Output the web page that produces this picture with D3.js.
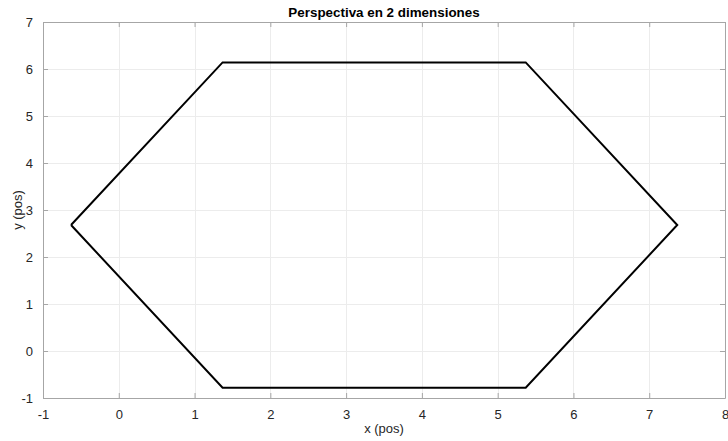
<!DOCTYPE html>
<meta charset="utf-8">
<style>
  body { margin: 0; background: #fff; }
  text { font-family: "Liberation Sans", Arial, sans-serif; }
</style>
<body>
<svg width="728" height="441"></svg>
<script src="https://cdn.jsdelivr.net/npm/d3@7"></script>
<script>
// hexagon vertices (closed path)
var xs = [-0.63, 1.37, 5.37, 7.37, 5.37, 1.37, -0.63];
var ys = [2.68, 6.14, 6.14, 2.68, -0.78, -0.78, 2.68];
var xTicks = [-1, 0, 1, 2, 3, 4, 5, 6, 7, 8];
var yTicks = [-1, 0, 1, 2, 3, 4, 5, 6, 7];

var svg = d3.select("svg");
var pLeft = 43, pRight = 725, pTop = 22, pBottom = 398;

var x = d3.scaleLinear().domain([-1, 8]).range([pLeft, pRight]);
var y = d3.scaleLinear().domain([-1, 7]).range([pBottom, pTop]);
var fmt = d => String(d);

// grid
var grid = svg.append("g").attr("stroke", "#ececec").attr("stroke-width", 1);
grid.selectAll(".gx").data(xTicks).enter().append("line")
    .attr("x1", d => Math.round(x(d)) + 0.5).attr("x2", d => Math.round(x(d)) + 0.5)
    .attr("y1", pTop).attr("y2", pBottom);
grid.selectAll(".gy").data(yTicks).enter().append("line")
    .attr("y1", d => Math.round(y(d)) + 0.5).attr("y2", d => Math.round(y(d)) + 0.5)
    .attr("x1", pLeft).attr("x2", pRight);

// axes with inward ticks on all four sides
function styleAxis(g) {
    g.select(".domain").attr("stroke", "#a6a6a6");
    g.selectAll(".tick line").attr("stroke", "#a6a6a6");
    g.selectAll(".tick text").attr("fill", "#262626").attr("font-size", 13);
}
svg.append("g").attr("transform", "translate(0," + pBottom + ")")
    .call(d3.axisBottom(x).tickValues(xTicks).tickFormat(fmt).tickSize(-5).tickSizeOuter(0).tickPadding(12))
    .call(styleAxis);
svg.append("g").attr("transform", "translate(0," + pTop + ")")
    .call(d3.axisTop(x).tickValues(xTicks).tickSize(-5).tickSizeOuter(0).tickFormat(""))
    .call(styleAxis);
svg.append("g").attr("transform", "translate(" + pLeft + ",0)")
    .call(d3.axisLeft(y).tickValues(yTicks).tickFormat(fmt).tickSize(-5).tickSizeOuter(0).tickPadding(10))
    .call(styleAxis);
svg.append("g").attr("transform", "translate(" + pRight + ",0)")
    .call(d3.axisRight(y).tickValues(yTicks).tickSize(-5).tickSizeOuter(0).tickFormat(""))
    .call(styleAxis);

// hexagon
var line = d3.line().x((d, i) => x(xs[i])).y((d, i) => y(ys[i]));
svg.append("path")
    .datum(xs)
    .attr("d", line)
    .attr("fill", "none")
    .attr("stroke", "#000")
    .attr("stroke-width", 2)
    .attr("stroke-linejoin", "miter");

// title and labels
svg.append("text")
    .attr("x", (pLeft + pRight) / 2).attr("y", 17)
    .attr("text-anchor", "middle")
    .attr("font-size", 13.4).attr("font-weight", "bold")
    .attr("fill", "#000")
    .text("Perspectiva en 2 dimensiones");

svg.append("text")
    .attr("x", (pLeft + pRight) / 2).attr("y", 433)
    .attr("text-anchor", "middle")
    .attr("font-size", 13).attr("fill", "#262626")
    .text("x (pos)");

svg.append("text")
    .attr("transform", "translate(22," + (pTop + pBottom) / 2 + ") rotate(-90)")
    .attr("text-anchor", "middle")
    .attr("font-size", 13).attr("fill", "#262626")
    .text("y (pos)");
</script>
</body>
